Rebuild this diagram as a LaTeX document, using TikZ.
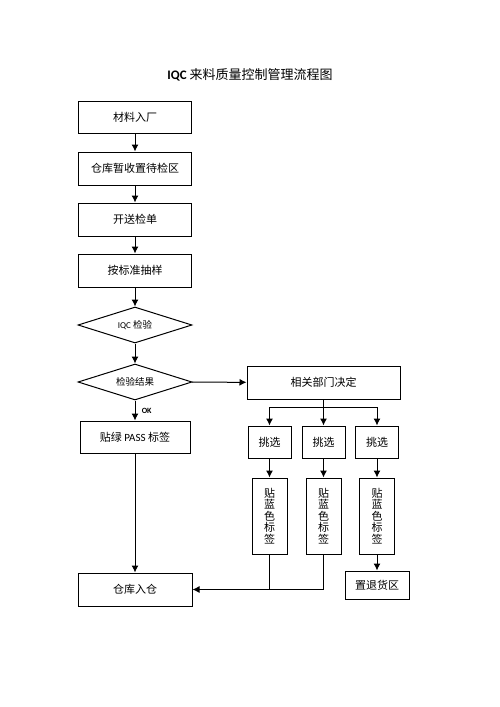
\documentclass[tikz,border=0pt]{standalone}
\usepackage{fontspec}
\setmainfont{Carlito}
\newfontfamily\cjk{Noto Sans CJK SC}
\newfontfamily\lat{Carlito}
\usetikzlibrary{positioning,calc,shapes.geometric,arrows.meta}

\tikzset{
  box/.style={draw, line width=1pt, inner sep=0pt, font=\cjk\fontsize{11}{13}\selectfont},
  dec/.style={draw, line width=1pt, diamond, aspect=3.2, inner sep=0pt,
    minimum width=114pt, minimum height=36pt, font=\cjk\fontsize{9.5}{11}\selectfont},
  flow/.style={line width=1pt, -{Latex[length=7pt,width=7pt]}},
  link/.style={line width=1pt}
}

\begin{document}
\begin{tikzpicture}[x=1pt, y=-1pt]
			\useasboundingbox (0,0) rectangle (500,707);
			% title
			\node (title) at (250,75) {\fontsize{13}{15}\selectfont\textbf{IQC} \cjk 来料质量控制管理流程图};
			% main column
			\node[box, minimum width=113pt, minimum height=32pt] (entry) at (135,117) {材料入厂};
			\node[box, minimum width=113pt, minimum height=33pt] (hold) at (135,168.5) {仓库暂收置待检区};
			\node[box, minimum width=113pt, minimum height=33pt] (sheet) at (135,219.5) {开送检单};
			\node[box, minimum width=113pt, minimum height=33pt] (sample) at (135,270.5) {按标准抽样};
			\node[dec] (iqc) at (135,325) {{\lat\fontsize{9}{11}\selectfont IQC} 检验};
			\node[dec] (result) at (135,382) {检验结果};
			\node[box, minimum width=110pt, minimum height=32pt] (pass) at (135,437) {贴绿 {\lat PASS} 标签};
			\node[box, minimum width=114pt, minimum height=33pt] (store) at (135,589.5) {仓库入仓};
			% right branch
			\node[box, minimum width=153pt, minimum height=33pt] (decide) at (323.5,382.5) {相关部门决定};
			\foreach \i/\x in {1/269.5, 2/323.5, 3/377}
			{
				\node[box, minimum width=43pt, minimum height=32pt] (pick\i) at (\x,442) {挑选};
				\node[box, minimum width=35pt, minimum height=76pt, align=center,
				  font=\cjk\fontsize{11}{11.4}\selectfont] (blue\i) at (\x,516) {贴\\蓝\\色\\标\\签};
				\draw[flow] (pick\i) -- (blue\i);
			}
			\node[box, minimum width=64pt, minimum height=28pt] (reject) at (377,585) {置退货区};
			\coordinate (fork) at (323.5,407);
			% connectors
			\draw[flow] (entry) -- (hold);
			\draw[flow] (hold) -- (sheet);
			\draw[flow] (sheet) -- (sample);
			\draw[flow] (sample) -- (iqc);
			\draw[flow] (iqc) -- (result);
			\draw[flow] (result) -- node[right=3pt, font=\lat\bfseries\fontsize{8}{10}\selectfont] {OK} (pass);
			\draw[flow] (pass) -- (store);
			\draw[flow] (result) -- (decide);
			\draw[flow] (decide) -- (pick2);
			\draw[flow] (fork) -| (pick1);
			\draw[flow] (fork) -| (pick3);
			\draw[flow] (blue3) -- (reject);
			\draw[link] (blue1.south) -- (blue1.south |- store.east);
			\draw[flow] (blue2.south) |- (store.east);
		\end{tikzpicture}
\end{document}
